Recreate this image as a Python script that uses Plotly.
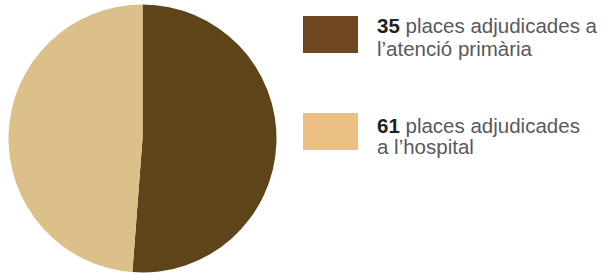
import plotly.graph_objects as go

categories = ["l’atenció primària", "l’hospital"]
counts = [35, 61]
pie_share = [51.2, 48.8]  # slice sizes as drawn in the picture
pie_colors = ["#5e4519", "#dcc08a"]
legend_colors = ["#6e461f", "#ecc084"]
legend_lines = [["places adjudicades a", "l’atenció primària"],
                ["places adjudicades", "a l’hospital"]]

W, H = 608, 275
fig = go.Figure()
fig.add_trace(go.Pie(
    labels=categories, values=pie_share, sort=False, direction="clockwise",
    rotation=0, marker=dict(colors=pie_colors, line=dict(width=0)),
    textinfo="none", hoverinfo="label", showlegend=False,
    domain=dict(x=[7/W, 278/W], y=[1-272.5/H, 1-4.5/H]),
))

tops = [16, 113]
baselines = [[33, 55], [132, 153]]
font = dict(family="Liberation Sans, Arial, sans-serif", size=20.5, color="#58595b")
for i, (c, lc, lines) in enumerate(zip(counts, legend_colors, legend_lines)):
    y0 = tops[i]
    fig.add_shape(type="rect", xref="paper", yref="paper",
                  x0=303/W, x1=358/W, y0=1-(y0+37)/H, y1=1-y0/H,
                  fillcolor=lc, line=dict(width=0))
    texts = [f"<span style='color:#231f20'><b>{c}</b></span> {lines[0]}", lines[1]]
    for t, b in zip(texts, baselines[i]):
        fig.add_annotation(xref="paper", yref="paper", x=376/W, y=1-(b-7)/H,
                           xanchor="left", yanchor="middle", align="left",
                           borderpad=0, text=t, showarrow=False, font=font)

fig.update_layout(width=W, height=H, margin=dict(l=0, r=0, t=0, b=0),
                  paper_bgcolor="white", plot_bgcolor="white")
fig.write_html("out.html", config={"displayModeBar": False},
               post_script="document.body.style.margin='0';document.documentElement.style.margin='0';")
